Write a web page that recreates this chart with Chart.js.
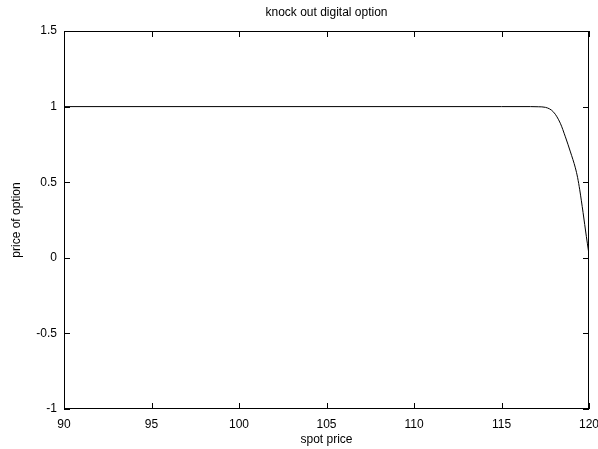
<!DOCTYPE html>
<html>
<head>
<meta charset="utf-8">
<script src="https://cdn.jsdelivr.net/npm/chart.js@4.4.1/dist/chart.umd.min.js"></script>
<style>
  html, body { margin: 0; padding: 0; background: #fff; }
  #wrap { width: 598px; height: 449px; position: relative; }
</style>
</head>
<body>
<div id="wrap"><canvas id="plot"></canvas></div>
<script>
// knock-out digital option price against spot
const spot  = [90, 100, 110, 115, 116, 116.65, 117.1, 117.51, 117.98, 118.36, 118.65, 118.94, 119.22, 119.35, 119.47, 119.66, 119.85, 119.97, 120];
const price = [1, 1, 1, 1, 1, 1, 0.999, 0.995, 0.963, 0.89, 0.80, 0.70, 0.595, 0.53, 0.45, 0.30, 0.14, 0.045, 0.02];

const xTicks = [90, 95, 100, 105, 110, 115, 120];
const yTicks = [-1, -0.5, 0, 0.5, 1, 1.5];

const chartTitle = "knock out digital option";
const xTitle = "spot price";
const yTitle = "price of option";

const FONT_FAMILY = "'Liberation Sans', Arial, sans-serif";

// frame, mirrored inward ticks and the text around the plot
const framePlugin = {
    id: 'frame',
    afterDraw(chart) {
        const ctx = chart.ctx;
        const a = chart.chartArea;
        const xs = chart.scales.x, ys = chart.scales.y;
        ctx.save();
        ctx.strokeStyle = '#000';
        ctx.lineWidth = 1;
        ctx.strokeRect(a.left + 0.5, a.top + 0.5, a.right - a.left - 1, a.bottom - a.top - 1);
        ctx.beginPath();
        xTicks.forEach(v => {
            const px = Math.round(xs.getPixelForValue(v)) + 0.5;
            ctx.moveTo(px, a.bottom); ctx.lineTo(px, a.bottom - 6);
            ctx.moveTo(px, a.top);    ctx.lineTo(px, a.top + 6);
        });
        yTicks.forEach(v => {
            const py = Math.round(ys.getPixelForValue(v)) + 0.5;
            ctx.moveTo(a.left, py);  ctx.lineTo(a.left + 6, py);
            ctx.moveTo(a.right, py); ctx.lineTo(a.right - 6, py);
        });
        ctx.stroke();

        ctx.fillStyle = '#000';
        ctx.font = "12px " + FONT_FAMILY;
        ctx.textAlign = 'center';
        ctx.textBaseline = 'middle';
        const cx = (a.left + a.right) / 2;
        ctx.fillText(chartTitle, cx, 13);
        ctx.fillText(xTitle, cx, 440);
        ctx.translate(17, (a.top + a.bottom) / 2);
        ctx.rotate(-Math.PI / 2);
        ctx.fillText(yTitle, 0, 0);
        ctx.restore();
    }
};

document.addEventListener('DOMContentLoaded', () => {
    const ctx = document.getElementById('plot').getContext('2d');
    new Chart(ctx, {
        type: 'line',
        data: {
            datasets: [{
                data: spot.map((s, i) => ({ x: s, y: price[i] })),
                borderColor: '#000',
                borderWidth: 1,
                pointRadius: 0,
                fill: false,
                cubicInterpolationMode: 'monotone'
            }]
        },
        options: {
            responsive: true,
            maintainAspectRatio: false,
            animation: false,
            layout: { padding: { top: 31, right: 9, bottom: 0, left: 0 } },
            plugins: {
                legend: { display: false },
                tooltip: { enabled: false },
                title: { display: false }
            },
            scales: {
                x: {
                    type: 'linear',
                    min: 90, max: 120,
                    afterFit: s => { s.height = 40; s.paddingLeft = 0; s.paddingRight = 0; },
                    afterBuildTicks: s => { s.ticks = xTicks.map(v => ({ value: v })); },
                    grid: { display: false, drawTicks: false },
                    border: { display: false },
                    ticks: { color: '#000', font: { family: FONT_FAMILY, size: 12 }, padding: 8, maxRotation: 0 }
                },
                y: {
                    type: 'linear',
                    min: -1, max: 1.5,
                    afterFit: s => { s.width = 64; s.paddingTop = 0; s.paddingBottom = 0; },
                    afterBuildTicks: s => { s.ticks = yTicks.map(v => ({ value: v })); },
                    grid: { display: false, drawTicks: false },
                    border: { display: false },
                    ticks: {
                        color: '#000',
                        font: { family: FONT_FAMILY, size: 12 },
                        padding: 7,
                        callback: v => String(v)
                    }
                }
            }
        },
        plugins: [framePlugin]
    });
});
</script>
</body>
</html>
